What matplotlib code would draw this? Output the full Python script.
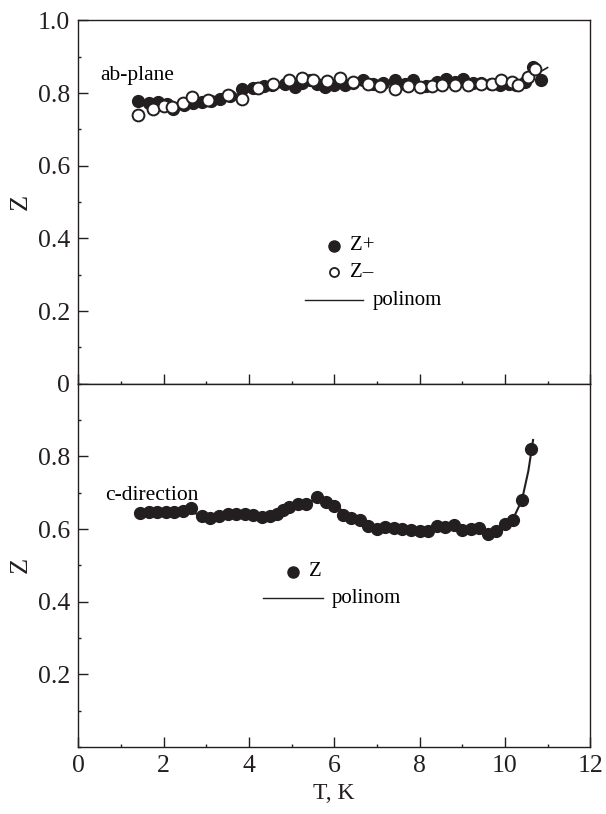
import matplotlib
matplotlib.use('Agg')
import matplotlib.pyplot as plt
from matplotlib.ticker import MultipleLocator

plt.rcParams['font.family'] = ['Liberation Serif', 'DejaVu Serif']

INK = '#231f20'

# ab-plane: Z+ (filled) and Z- (open)
ab_T_plus = [1.41, 1.65, 1.88, 2.08, 2.23, 2.47, 2.70, 2.90, 3.12, 3.33, 3.55, 3.85,
             4.10, 4.35, 4.54, 4.85, 5.08, 5.25, 5.43, 5.60, 5.78, 6.00, 6.25, 6.45,
             6.68, 6.90, 7.15, 7.42, 7.65, 7.85, 8.16, 8.40, 8.63, 8.82, 9.02, 9.25,
             9.45, 9.68, 9.88, 10.10, 10.27, 10.48, 10.66, 10.84]
ab_Z_plus = [0.778, 0.772, 0.775, 0.771, 0.757, 0.768, 0.773, 0.775, 0.778, 0.784, 0.792, 0.810,
             0.815, 0.818, 0.821, 0.826, 0.816, 0.828, 0.835, 0.826, 0.816, 0.822, 0.821, 0.828,
             0.837, 0.826, 0.828, 0.835, 0.826, 0.835, 0.819, 0.830, 0.839, 0.830, 0.839, 0.828,
             0.828, 0.826, 0.821, 0.826, 0.823, 0.830, 0.871, 0.835]

ab_T_minus = [1.41, 1.76, 2.00, 2.19, 2.45, 2.66, 3.05, 3.52, 3.83, 4.22, 4.57, 4.93,
              5.24, 5.51, 5.82, 6.14, 6.45, 6.80, 7.07, 7.42, 7.74, 8.01, 8.28, 8.52,
              8.83, 9.14, 9.45, 9.69, 9.92, 10.16, 10.31, 10.55, 10.70]
ab_Z_minus = [0.740, 0.757, 0.765, 0.761, 0.772, 0.789, 0.782, 0.795, 0.784, 0.814, 0.826, 0.835,
              0.841, 0.835, 0.832, 0.841, 0.830, 0.825, 0.819, 0.812, 0.819, 0.816, 0.819, 0.821,
              0.823, 0.823, 0.825, 0.825, 0.835, 0.830, 0.823, 0.844, 0.865]

ab_fit_T = [1.4, 2.0, 2.5, 3.0, 3.5, 4.0, 4.5, 5.0, 5.5, 6.0, 7.0, 8.0, 9.0, 9.5,
            10.0, 10.4, 10.7, 11.0]
ab_fit_Z = [0.765, 0.768, 0.773, 0.781, 0.792, 0.803, 0.812, 0.819, 0.823, 0.825, 0.826, 0.824,
            0.824, 0.825, 0.828, 0.836, 0.850, 0.870]

# c-direction
c_T = [1.45, 1.65, 1.85, 2.05, 2.25, 2.45, 2.65, 2.90, 3.10, 3.30, 3.50, 3.70,
       3.90, 4.10, 4.30, 4.50, 4.65, 4.80, 4.95, 5.15, 5.35, 5.60, 5.80, 6.00,
       6.20, 6.40, 6.60, 6.80, 7.00, 7.20, 7.40, 7.60, 7.80, 8.00, 8.20, 8.40,
       8.60, 8.80, 9.00, 9.20, 9.40, 9.60, 9.80, 10.00, 10.20, 10.40, 10.62]
c_Z = [0.645, 0.646, 0.646, 0.647, 0.647, 0.649, 0.657, 0.637, 0.630, 0.636, 0.640, 0.642,
       0.641, 0.638, 0.633, 0.635, 0.642, 0.652, 0.660, 0.668, 0.670, 0.688, 0.673, 0.663,
       0.638, 0.631, 0.624, 0.608, 0.600, 0.605, 0.604, 0.600, 0.597, 0.595, 0.594, 0.607,
       0.605, 0.612, 0.598, 0.601, 0.604, 0.585, 0.594, 0.615, 0.625, 0.681, 0.819]

c_fit_T = [1.45, 2.0, 2.5, 3.0, 3.5, 4.0, 4.5, 5.0, 5.6, 6.0, 6.5, 7.0, 8.0, 9.0,
           9.6, 10.0, 10.2, 10.4, 10.55, 10.66]
c_fit_Z = [0.645, 0.647, 0.647, 0.638, 0.638, 0.638, 0.638, 0.655, 0.682, 0.665, 0.628, 0.603,
           0.596, 0.602, 0.592, 0.610, 0.630, 0.680, 0.760, 0.845]

fig, (ax1, ax2) = plt.subplots(2, 1, sharex=True, figsize=(6.06, 8.14), dpi=100)
fig.subplots_adjust(left=0.129, right=0.974, top=0.975, bottom=0.0823, hspace=0)

# top panel
ax1.plot(ab_fit_T, ab_fit_Z, color=INK, lw=1.2, zorder=1)
ax1.plot(ab_T_plus, ab_Z_plus, 'o', ms=8.5, color=INK, zorder=2)
ax1.plot(ab_T_minus, ab_Z_minus, 'o', ms=8.5, mfc='white', mec=INK, mew=1.4, zorder=3)
ax1.set_ylim(0, 1.0)
ax1.set_yticks([0, 0.2, 0.4, 0.6, 0.8, 1.0])
ax1.set_yticklabels(['0', '0.2', '0.4', '0.6', '0.8', '1.0'])
ax1.set_ylabel('Z', fontsize=19, labelpad=4)
ax1.text(0.043, 0.848, 'ab-plane', transform=ax1.transAxes, fontsize=15.5, va='center')

# top legend drawn by hand
ax1.plot([0.5], [0.38], 'o', ms=8, color=INK, transform=ax1.transAxes, clip_on=False)
ax1.text(0.531, 0.38, 'Z+', transform=ax1.transAxes, fontsize=15, va='center')
ax1.plot([0.5], [0.307], 'o', ms=6.5, mfc='white', mec=INK, mew=1.3, transform=ax1.transAxes)
ax1.text(0.531, 0.307, 'Z\u2013', transform=ax1.transAxes, fontsize=15, va='center')
ax1.plot([0.443, 0.557], [0.229, 0.229], color=INK, lw=1.0, transform=ax1.transAxes)
ax1.text(0.576, 0.229, 'polinom', transform=ax1.transAxes, fontsize=15, va='center')

# bottom panel
ax2.plot(c_fit_T, c_fit_Z, color=INK, lw=1.5, zorder=1)
ax2.plot(c_T, c_Z, 'o', ms=8.5, color=INK, zorder=2)
ax2.set_ylim(0, 1.0)
ax2.set_yticks([0.2, 0.4, 0.6, 0.8])
ax2.set_yticklabels(['0.2', '0.4', '0.6', '0.8'])
ax2.set_ylabel('Z', fontsize=19, labelpad=4)
ax2.text(0.053, 0.693, 'c-direction', transform=ax2.transAxes, fontsize=15.5, va='center')

ax2.plot([0.42], [0.482], 'o', ms=8, color=INK, transform=ax2.transAxes)
ax2.text(0.45, 0.482, 'Z', transform=ax2.transAxes, fontsize=15, va='center')
ax2.plot([0.361, 0.478], [0.409, 0.409], color=INK, lw=1.0, transform=ax2.transAxes)
ax2.text(0.496, 0.409, 'polinom', transform=ax2.transAxes, fontsize=15, va='center')

ax2.set_xlim(0, 12)
ax2.set_xticks([0, 2, 4, 6, 8, 10, 12])
ax2.set_xlabel('T, K', fontsize=17, labelpad=4)

for ax in (ax1, ax2):
    ax.xaxis.set_minor_locator(MultipleLocator(1))
    ax.yaxis.set_minor_locator(MultipleLocator(0.1))
    ax.tick_params(which='major', direction='in', length=7, width=1, labelsize=18.5,
                   color=INK, labelcolor=INK, top=False, right=False, pad=6)
    ax.tick_params(which='minor', direction='in', length=2.5, width=1, color=INK,
                   top=False, right=False)
    for s in ax.spines.values():
        s.set_linewidth(1.0)
        s.set_color(INK)
    ax.yaxis.label.set_color(INK)
ax1.tick_params(axis='x', which='both', labelbottom=False)
ax2.xaxis.label.set_color(INK)

fig.savefig('out.png', dpi=100)
